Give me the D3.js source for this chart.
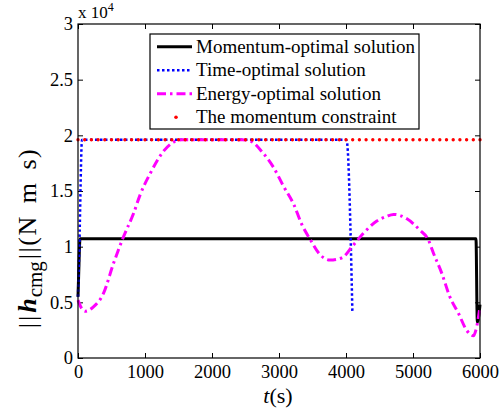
<!DOCTYPE html>
<html>
<head>
<meta charset="utf-8">
<script src="https://cdn.jsdelivr.net/npm/d3@7"></script>
<style>
  body { margin: 0; background: #fff; }
  text { font-family: "Liberation Serif", "Times New Roman", serif; fill: #000; }
</style>
</head>
<body>
<div id="chart"></div>
<script>
// Chart data (N m s)
const xTicks = [0, 1000, 2000, 3000, 4000, 5000, 6000];
const yTicks = [0, 5000, 10000, 15000, 20000, 25000, 30000];

const momentumT = [0, 10, 30, 5940, 5960, 6000];
const momentumH = [5500, 7500, 10700, 10700, 3200, 4800];

const timeT = [0, 20, 60, 4000, 4012, 4095];
const timeH = [5500, 10000, 19600, 19600, 19500, 4200];

const energyT = [0, 50, 110, 230, 380, 530, 680, 830, 930, 1080, 1280, 1430, 1550, 2450, 2570, 2750, 2920, 3070, 3220, 3340, 3470, 3610, 3760, 3940, 4090, 4260, 4460, 4600, 4710, 4910, 5100, 5230, 5300, 5430, 5550, 5680, 5800, 5900, 5950, 6000];
const energyH = [5200, 4500, 4200, 4600, 5800, 8500, 10900, 13000, 14700, 16600, 18600, 19400, 19600, 19600, 19500, 18500, 17100, 15400, 13800, 12000, 10600, 9300, 8800, 9000, 10000, 11200, 12300, 12700, 12900, 12500, 11500, 10600, 9500, 7600, 5500, 4000, 2500, 2000, 2800, 4600];

const constraintT = [0, 6000];
const constraintH = [19600, 19600];

const legendLabels = ["Momentum-optimal solution", "Time-optimal solution", "Energy-optimal solution", "The momentum constraint"];

// Layout
const W = 500, H = 412;
const plot = { left: 78, right: 480, top: 24, bottom: 358 };

const svg = d3.select("#chart").append("svg")
    .attr("width", W)
    .attr("height", H);

const x = d3.scaleLinear().domain([0, 6000]).range([plot.left, plot.right]);
const y = d3.scaleLinear().domain([0, 30000]).range([plot.bottom, plot.top]);

// Axes with inward ticks (MATLAB style)
const fmtY = d => d3.format("")(d / 10000);

svg.append("g")
    .attr("transform", `translate(0,${plot.bottom})`)
    .call(d3.axisBottom(x).tickValues(xTicks).tickSizeInner(-5).tickSizeOuter(0).tickPadding(7).tickFormat(d3.format("")))
    .call(g => g.select(".domain").remove())
    .call(g => g.selectAll("text").attr("font-size", 18.5).attr("dy", "0.72em"));

svg.append("g")
    .attr("transform", `translate(${plot.left},0)`)
    .call(d3.axisLeft(y).tickValues(yTicks).tickSizeInner(-5).tickSizeOuter(0).tickPadding(5).tickFormat(fmtY))
    .call(g => g.select(".domain").remove())
    .call(g => g.selectAll("text").attr("font-size", 18.5));

svg.append("g")
    .attr("transform", `translate(0,${plot.top})`)
    .call(d3.axisTop(x).tickValues(xTicks).tickSizeInner(-5).tickSizeOuter(0).tickFormat(""))
    .call(g => g.select(".domain").remove());

svg.append("g")
    .attr("transform", `translate(${plot.right},0)`)
    .call(d3.axisRight(y).tickValues(yTicks).tickSizeInner(-5).tickSizeOuter(0).tickFormat(""))
    .call(g => g.select(".domain").remove());

svg.selectAll(".tick line").attr("stroke", "#000");

// Series
const series = [
    { t: momentumT, h: momentumH, color: "#000", width: 3, dash: null, cap: "butt" },
    { t: timeT, h: timeH, color: "#0000ff", width: 2.5, dash: "2.5,2.5", cap: "butt" },
    { t: energyT, h: energyH, color: "#ff00ff", width: 3, dash: "9,4,2.5,4", cap: "butt" },
    { t: constraintT, h: constraintH, color: "#ff0000", width: 3.4, dash: "0,6.7", cap: "round" }
];

const line = d3.line()
    .x(d => x(d[0]))
    .y(d => y(d[1]))
    .curve(d3.curveMonotoneX);

series.forEach(s => {
    svg.append("path")
        .datum(s.t.map((t, i) => [t, s.h[i]]))
        .attr("d", line)
        .attr("fill", "none")
        .attr("stroke", s.color)
        .attr("stroke-width", s.width)
        .attr("stroke-dasharray", s.dash)
        .attr("stroke-linecap", s.cap);
});

// Axes box
svg.append("rect")
    .attr("x", plot.left)
    .attr("y", plot.top)
    .attr("width", plot.right - plot.left)
    .attr("height", plot.bottom - plot.top)
    .attr("fill", "none")
    .attr("stroke", "#000")
    .attr("stroke-width", 1.2);

// Exponent label
const expo = svg.append("text")
    .attr("x", 78)
    .attr("y", 18)
    .attr("font-size", 17);
expo.append("tspan").text("x 10");
expo.append("tspan").attr("font-size", 12).attr("dy", -7).text("4");

// Legend
const legend = svg.append("g");
legend.append("rect")
    .attr("x", 150)
    .attr("y", 34)
    .attr("width", 269)
    .attr("height", 95)
    .attr("fill", "#fff")
    .attr("stroke", "#000")
    .attr("stroke-width", 1.2);

legendLabels.forEach((label, i) => {
    const cy = 46.7 + i * 23.5;
    const s = series[i];
    if (i < 3) {
        legend.append("line")
            .attr("x1", 157).attr("x2", 192)
            .attr("y1", cy).attr("y2", cy)
            .attr("stroke", s.color)
            .attr("stroke-width", s.width)
            .attr("stroke-dasharray", s.dash);
    } else {
        legend.append("circle")
            .attr("cx", 176).attr("cy", cy)
            .attr("r", 1.8)
            .attr("fill", s.color);
    }
    legend.append("text")
        .attr("x", 196)
        .attr("y", cy + 6)
        .attr("font-size", 19)
        .text(label);
});

// Axis labels
const xl = svg.append("text")
    .attr("x", 278)
    .attr("y", 403)
    .attr("text-anchor", "middle")
    .attr("font-size", 22);
xl.append("tspan").attr("font-style", "italic").text("t");
xl.append("tspan").text("(s)");

const yl = svg.append("text")
    .attr("transform", "translate(36,238) rotate(-90)")
    .attr("text-anchor", "middle")
    .attr("font-size", 26);
yl.append("tspan").attr("letter-spacing", 2).text("||");
yl.append("tspan").attr("font-weight", "bold").attr("font-style", "italic").attr("dx", 1).text("h");
yl.append("tspan").attr("font-size", 21).attr("dy", 6).attr("dx", 1).text("cmg");
yl.append("tspan").attr("dy", -6).attr("dx", 2).attr("letter-spacing", 1.5).attr("word-spacing", 4).text("||(N m s)");
</script>
</body>
</html>
